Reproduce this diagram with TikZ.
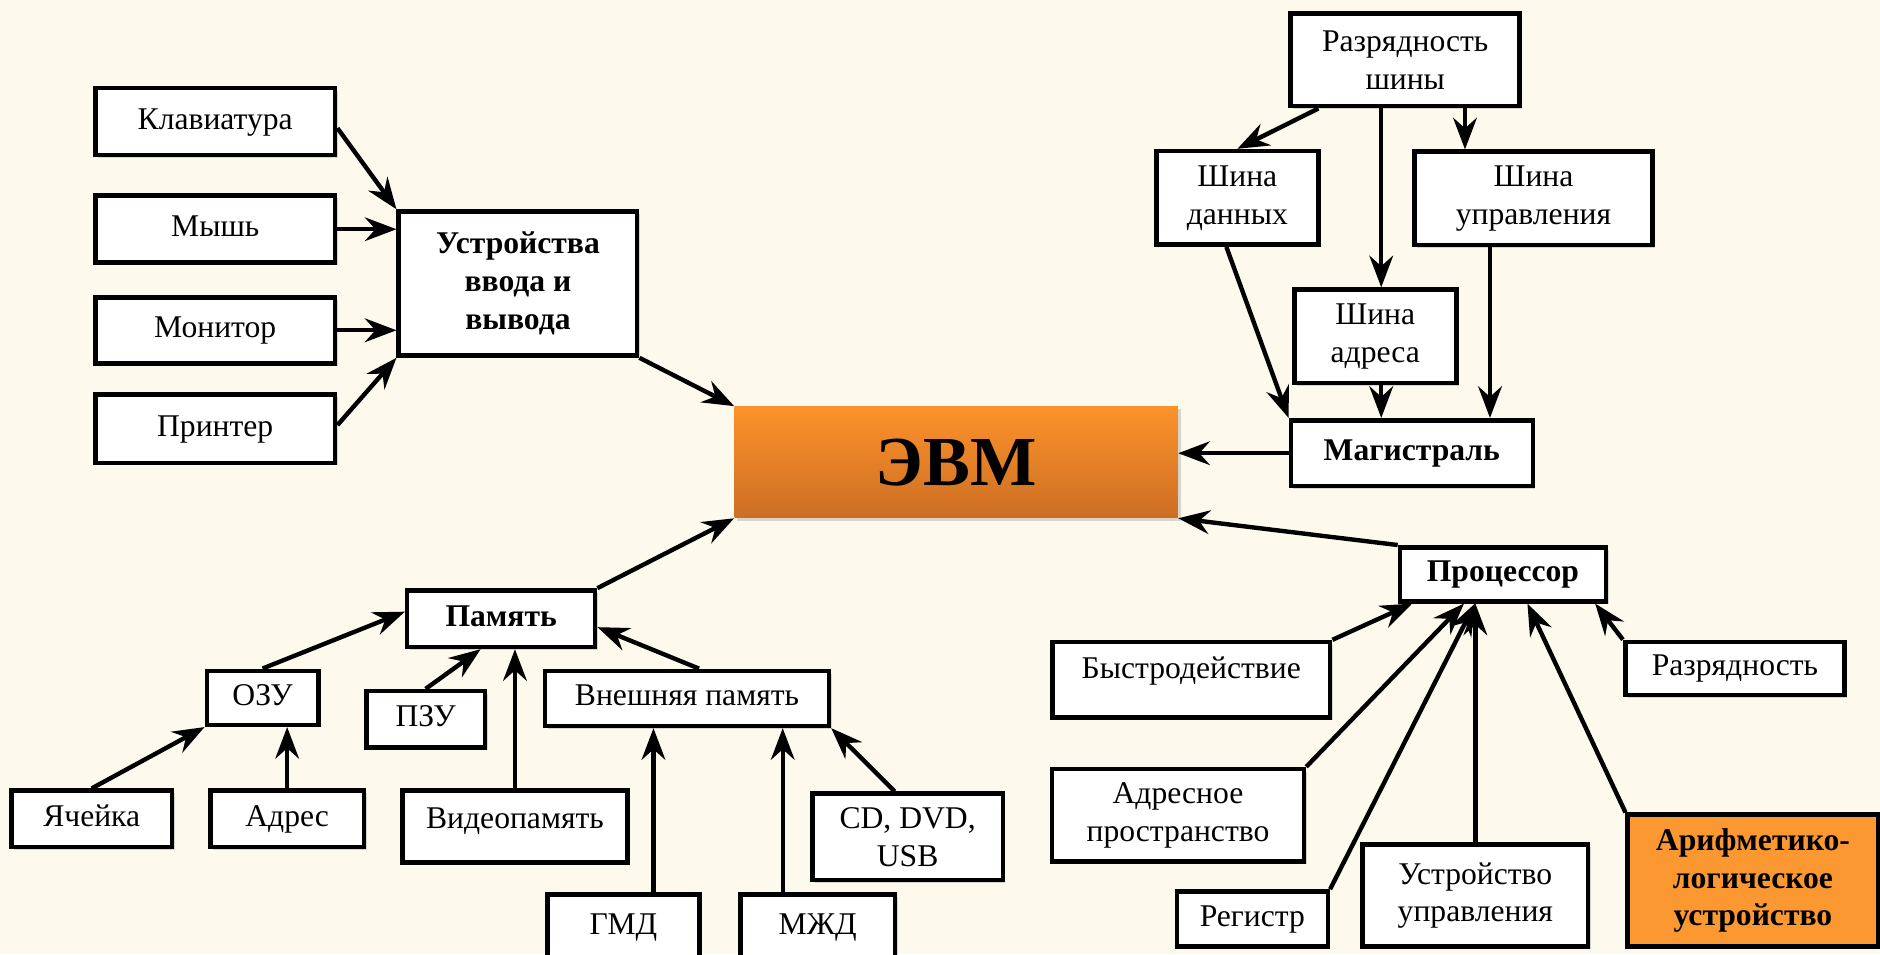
\documentclass[tikz,border=0pt]{standalone}
\usepackage{fontspec}
\setmainfont{Liberation Serif}
\usetikzlibrary{positioning,arrows.meta,shadows}

\definecolor{fon}{RGB}{253,249,237}
\definecolor{oranzh}{RGB}{252,152,50}
\definecolor{oranzhtop}{RGB}{253,146,43}
\definecolor{oranzhbot}{RGB}{204,110,35}

\tikzset{
  ten/.style={drop shadow={shadow xshift=1.5pt,shadow yshift=-1.5pt,opacity=0.3}},
  blok/.style={draw=black, line width=2.6pt, fill=white, align=center, inner sep=2pt,
    font=\fontsize{18}{21.5}\selectfont, ten},
  glav/.style={blok, font=\fontsize{18}{21.5}\selectfont\bfseries},
  odna/.style={text height=12.5pt, text depth=4pt},
  strelka/.style={line width=2.5pt, -{Stealth[length=18pt,width=13.5pt,inset=6pt]}},
}

\begin{document}
\begin{tikzpicture}[x=0.02398cm, y=-0.02398cm]
\fill[fon] (0,0) rectangle (1568,796);
\useasboundingbox (0,0) rectangle (1568,796);

\node[ten, font=\fontsize{40}{48}\selectfont\bfseries, top color=oranzhtop, bottom color=oranzhbot,
  minimum width=8.87cm, minimum height=2.23cm] (evm) at (797.5,385.5) {ЭВМ};

% ввод и вывод
\node[blok, odna, minimum width=4.80cm, minimum height=1.34cm] (klav) at (179.5,101.5) {Клавиатура};
\node[blok, odna, minimum width=4.80cm, minimum height=1.34cm, below=0.72cm of klav] (mysh) {Мышь};
\node[blok, odna, minimum width=4.80cm, minimum height=1.32cm, below=0.60cm of mysh] (monitor) {Монитор};
\node[blok, odna, minimum width=4.80cm, minimum height=1.37cm, below=0.53cm of monitor] (printer) {Принтер};
\node[glav, minimum width=4.77cm, minimum height=2.88cm] (uvv) at (432,236.5) {Устройства\\ввода и\\вывода};

\draw[strelka] ([yshift=-0.13cm]klav.east) -- (uvv.north west);
\draw[strelka] (mysh.east) -- (mysh.east -| uvv.west);
\draw[strelka] (monitor.east) -- (monitor.east -| uvv.west);
\draw[strelka] ([yshift=0.07cm]printer.east) -- (uvv.south west);
\draw[strelka] (uvv.south east) -- (evm.north west);

% магистраль
\node[blok, minimum width=4.58cm, minimum height=1.85cm] (rshiny) at (1172,50) {Разрядность\\шины};
\node[blok, minimum width=3.24cm, minimum height=1.87cm] (sdann) at (1032,165) {Шина\\данных};
\node[blok, minimum width=4.77cm, minimum height=1.87cm] (supr) at (1279,165.5) {Шина\\управления};
\node[blok, minimum width=3.24cm, minimum height=1.87cm] (sadr) at (1147,280.5) {Шина\\адреса};
\node[glav, odna, minimum width=4.84cm, minimum height=1.32cm] (magistral) at (1177.5,378) {Магистраль};

\coordinate (sa1) at ([xshift=0.12cm]sadr.north);
\coordinate (sa2) at ([xshift=0.12cm]sadr.south);
\coordinate (su1) at ([xshift=1.06cm]supr.north west);
\coordinate (su2) at ([xshift=1.56cm]supr.south west);
\draw[strelka] ([xshift=0.60cm]rshiny.south west) -- (sdann.north);
\draw[strelka] (sa1 |- rshiny.south) -- (sa1);
\draw[strelka] (su1 |- rshiny.south) -- (su1);
\draw[strelka] ([xshift=-0.22cm]sdann.south) -- (magistral.north west);
\draw[strelka] (sa2) -- (sa2 |- magistral.north);
\draw[strelka] (su2) -- (su2 |- magistral.north);
\draw[strelka] (magistral.west) -- (magistral.west -| evm.east);

% память
\node[glav, odna, minimum width=3.76cm, minimum height=1.13cm] (pamyat) at (418,516) {Память};
\node[blok, odna, minimum width=2.23cm, minimum height=1.08cm] (ozu) at (219,582) {ОЗУ};
\node[blok, odna, minimum width=2.37cm, minimum height=1.13cm] (pzu) at (355,600) {ПЗУ};
\node[blok, odna, minimum width=5.68cm, minimum height=1.10cm] (vnesh) at (573,582.5) {Внешняя память};
\node[blok, odna, minimum width=3.21cm, minimum height=1.13cm] (yach) at (76.5,683) {Ячейка};
\node[blok, odna, minimum width=3.07cm, minimum height=1.13cm] (adres) at (239.5,683) {Адрес};
\node[blok, minimum width=4.51cm, minimum height=1.44cm, text height=12.5pt, text depth=10pt] (video) at (429.5,689.5) {Видеопамять};
\node[blok, odna, minimum width=3.05cm, minimum height=1.29cm] (gmd) at (520,773) {ГМД};
\node[blok, odna, minimum width=3.09cm, minimum height=1.29cm] (mzhd) at (682,773) {МЖД};
\node[blok, minimum width=3.81cm, minimum height=1.73cm] (cd) at (757,698) {CD, DVD,\\USB};

\coordinate (g1) at ([xshift=0.60cm]gmd.north);
\coordinate (m1) at ([xshift=-0.70cm]mzhd.north);
\draw[strelka] (pamyat.north east) -- (evm.south west);
\draw[strelka] (ozu.north) -- ([yshift=0.14cm]pamyat.west);
\draw[strelka] (yach.north) -- (ozu.south west);
\draw[strelka] (adres.north) -- (adres.north |- ozu.south);
\draw[strelka] (pzu.north) -- ([xshift=-0.41cm]pamyat.south);
\draw[strelka] (video.north) -- (video.north |- pamyat.south);
\draw[strelka] ([xshift=0.24cm]vnesh.north) -- ([yshift=-0.17cm]pamyat.east);
\draw[strelka] (g1) -- (g1 |- vnesh.south);
\draw[strelka] (m1) -- (m1 |- vnesh.south);
\draw[strelka] ([xshift=-0.26cm]cd.north) -- (vnesh.south east);

% процессор
\node[glav, odna, minimum width=4.12cm, minimum height=1.08cm] (proc) at (1253.5,479) {Процессор};
\node[blok, minimum width=5.56cm, minimum height=1.51cm, text height=12.5pt, text depth=14.5pt] (bystr) at (993.5,567) {Быстродействие};
\node[blok, odna, minimum width=4.39cm, minimum height=1.06cm] (razr) at (1447,557.5) {Разрядность};
\node[blok, minimum width=5.04cm, minimum height=1.85cm] (adrpr) at (982.5,680) {Адресное\\пространство};
\node[blok, odna, minimum width=3.02cm, minimum height=1.10cm] (registr) at (1044.5,766.5) {Регистр};
\node[blok, minimum width=4.51cm, minimum height=2.04cm] (uu) at (1230.5,747) {Устройство\\управления};
\node[glav, fill=oranzh, minimum width=5.01cm, minimum height=2.64cm] (alu) at (1462,734.5) {Арифметико-\\логическое\\устройство};

\draw[strelka] (proc.north west) -- (evm.south east);
\draw[strelka] (bystr.north east) -- ([xshift=0.29cm]proc.south west);
\draw[strelka] (adrpr.north east) -- ([xshift=-0.78cm]proc.south);
\draw[strelka] (registr.north east) -- ([xshift=-0.56cm]proc.south);
\draw[strelka] (uu.north) -- (uu.north |- proc.south);
\draw[strelka] (alu.north west) -- ([xshift=0.49cm]proc.south);
\draw[strelka] (razr.north west) -- ([xshift=-0.26cm]proc.south east);
\end{tikzpicture}
\end{document}
